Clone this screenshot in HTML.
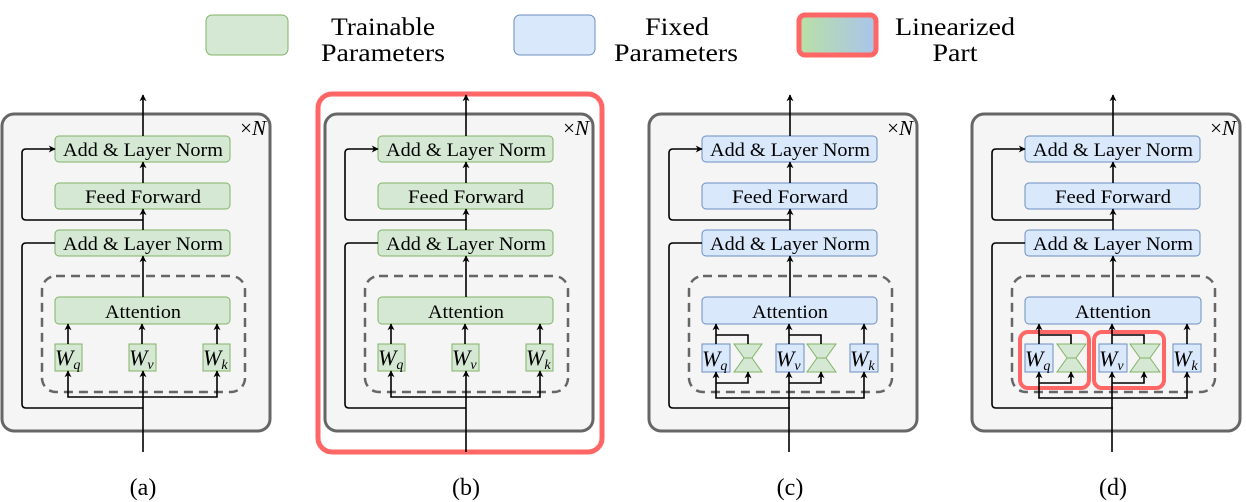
<!DOCTYPE html>
<html><head><meta charset="utf-8"><style>
html,body{margin:0;padding:0;background:#fff;}
svg{display:block;}
text{font-family:"Liberation Serif","Times New Roman",Times,serif;}
</style></head><body>
<svg width="1246" height="502" viewBox="0 0 1246 502" xmlns="http://www.w3.org/2000/svg">
<defs>
<marker id="ar" viewBox="0 0 10 10" refX="9" refY="5" markerWidth="7" markerHeight="7" orient="auto" markerUnits="userSpaceOnUse">
<path d="M0,0 L10,5 L0,10 L3,5 z" fill="#000"/></marker>
<linearGradient id="lg" x1="0" x2="1" y1="0" y2="0"><stop offset="0" stop-color="#b9e0a5"/><stop offset="1" stop-color="#a9c4eb"/></linearGradient>
</defs>
<g font-size="25">
<rect x="206" y="15" width="82" height="40" rx="6" fill="#d5e8d4" stroke="#82b366"/>
<text x="383" y="35" text-anchor="middle" textLength="104" lengthAdjust="spacingAndGlyphs">Trainable</text>
<text x="383" y="61" text-anchor="middle" textLength="124" lengthAdjust="spacingAndGlyphs">Parameters</text>
<rect x="514" y="15" width="81" height="40" rx="6" fill="#dae8fc" stroke="#6c8ebf"/>
<text x="677" y="35" text-anchor="middle" textLength="64" lengthAdjust="spacingAndGlyphs">Fixed</text>
<text x="676" y="61" text-anchor="middle" textLength="124" lengthAdjust="spacingAndGlyphs">Parameters</text>
<rect x="799" y="15" width="77" height="40" rx="6" fill="url(#lg)" stroke="#ff6666" stroke-width="5"/>
<text x="955" y="35" text-anchor="middle" textLength="120" lengthAdjust="spacingAndGlyphs">Linearized</text>
<text x="955" y="61" text-anchor="middle" textLength="45" lengthAdjust="spacingAndGlyphs">Part</text>
</g>
<rect x="318" y="94" width="284" height="358" rx="14" fill="none" stroke="#ff6666" stroke-width="5"/>

<g>
<rect x="2" y="114" width="268" height="317" rx="12" fill="#f5f5f5" stroke="#666" stroke-width="3"/>
<text x="266" y="135" font-size="21" text-anchor="end">×<tspan font-style="italic">N</tspan></text>
<rect x="42" y="276" width="203" height="116" rx="14" fill="none" stroke="#666" stroke-width="2.5" stroke-dasharray="9,6"/>
</g>
<g transform="translate(323,0)"><rect x="2" y="114" width="268" height="317" rx="12" fill="#f5f5f5" stroke="#666" stroke-width="3"/><text x="266" y="135" font-size="21" text-anchor="end">×<tspan font-style="italic">N</tspan></text><rect x="42" y="276" width="203" height="116" rx="14" fill="none" stroke="#666" stroke-width="2.5" stroke-dasharray="9,6"/></g>
<g transform="translate(647,0)"><rect x="2" y="114" width="268" height="317" rx="12" fill="#f5f5f5" stroke="#666" stroke-width="3"/><text x="266" y="135" font-size="21" text-anchor="end">×<tspan font-style="italic">N</tspan></text><rect x="42" y="276" width="203" height="116" rx="14" fill="none" stroke="#666" stroke-width="2.5" stroke-dasharray="9,6"/></g>
<g transform="translate(970,0)"><rect x="2" y="114" width="268" height="317" rx="12" fill="#f5f5f5" stroke="#666" stroke-width="3"/><text x="266" y="135" font-size="21" text-anchor="end">×<tspan font-style="italic">N</tspan></text><rect x="42" y="276" width="203" height="116" rx="14" fill="none" stroke="#666" stroke-width="2.5" stroke-dasharray="9,6"/></g>

<g font-size="19" text-anchor="middle">
<g fill="#d5e8d4" stroke="#82b366">
<rect x="55" y="136" width="175" height="26" rx="4"/><rect x="55" y="183" width="175" height="26" rx="4"/><rect x="55" y="230" width="175" height="26" rx="4"/><rect x="55" y="297" width="175" height="27" rx="4"/>
<rect x="55" y="344" width="27" height="27"/><rect x="129" y="344" width="27" height="27"/><rect x="203" y="344" width="27" height="27"/>
<rect x="378" y="136" width="175" height="26" rx="4"/><rect x="378" y="183" width="175" height="26" rx="4"/><rect x="378" y="230" width="175" height="26" rx="4"/><rect x="378" y="297" width="175" height="27" rx="4"/>
<rect x="378" y="344" width="27" height="27"/><rect x="452" y="344" width="27" height="27"/><rect x="526" y="344" width="27" height="27"/>
</g>
<g fill="#dae8fc" stroke="#6c8ebf">
<rect x="702" y="136" width="175" height="26" rx="4"/><rect x="702" y="183" width="175" height="26" rx="4"/><rect x="702" y="230" width="175" height="26" rx="4"/><rect x="702" y="297" width="175" height="27" rx="4"/>
<rect x="702" y="344" width="28" height="28"/><rect x="776" y="344" width="28" height="28"/><rect x="850" y="344" width="28" height="28"/>
<rect x="1025" y="136" width="175" height="26" rx="4"/><rect x="1025" y="183" width="175" height="26" rx="4"/><rect x="1025" y="230" width="175" height="26" rx="4"/><rect x="1025" y="297" width="176" height="27" rx="4"/>
<rect x="1025" y="344" width="28" height="28"/><rect x="1099" y="344" width="28" height="28"/><rect x="1173" y="344" width="28" height="28"/>
</g>
<g fill="#d5e8d4" stroke="#82b366">
<polygon points="734,344 762,344 752,358 762,372 734,372 744,358"/><line x1="744" y1="358" x2="752" y2="358"/>
<polygon points="807,344 836,344 826,358 836,372 807,372 817,358"/><line x1="817" y1="358" x2="826" y2="358"/>
<polygon points="1057,344 1086,344 1076,358 1086,372 1057,372 1067,358"/><line x1="1067" y1="358" x2="1076" y2="358"/>
<polygon points="1130,344 1160,344 1150,358 1160,372 1130,372 1140,358"/><line x1="1140" y1="358" x2="1150" y2="358"/>
</g>
<rect x="1020" y="332" width="69" height="56" rx="8" fill="none" stroke="#ff6666" stroke-width="4"/>
<rect x="1094" y="332" width="70" height="56" rx="8" fill="none" stroke="#ff6666" stroke-width="4"/>
<g>
<text x="143" y="156" textLength="160" lengthAdjust="spacingAndGlyphs">Add &amp; Layer Norm</text><text x="143" y="203" textLength="116" lengthAdjust="spacingAndGlyphs">Feed Forward</text><text x="143" y="250" textLength="160" lengthAdjust="spacingAndGlyphs">Add &amp; Layer Norm</text><text x="143" y="318" textLength="76" lengthAdjust="spacingAndGlyphs">Attention</text>
<text x="466" y="156" textLength="160" lengthAdjust="spacingAndGlyphs">Add &amp; Layer Norm</text><text x="466" y="203" textLength="116" lengthAdjust="spacingAndGlyphs">Feed Forward</text><text x="466" y="250" textLength="160" lengthAdjust="spacingAndGlyphs">Add &amp; Layer Norm</text><text x="466" y="318" textLength="76" lengthAdjust="spacingAndGlyphs">Attention</text>
<text x="790" y="156" textLength="160" lengthAdjust="spacingAndGlyphs">Add &amp; Layer Norm</text><text x="790" y="203" textLength="116" lengthAdjust="spacingAndGlyphs">Feed Forward</text><text x="790" y="250" textLength="160" lengthAdjust="spacingAndGlyphs">Add &amp; Layer Norm</text><text x="790" y="318" textLength="76" lengthAdjust="spacingAndGlyphs">Attention</text>
<text x="1113" y="156" textLength="160" lengthAdjust="spacingAndGlyphs">Add &amp; Layer Norm</text><text x="1113" y="203" textLength="116" lengthAdjust="spacingAndGlyphs">Feed Forward</text><text x="1113" y="250" textLength="160" lengthAdjust="spacingAndGlyphs">Add &amp; Layer Norm</text><text x="1113" y="318" textLength="76" lengthAdjust="spacingAndGlyphs">Attention</text>
</g>
<g font-style="italic" font-size="22" text-anchor="start">
<text x="55" y="365">W<tspan font-size="14" dy="4">q</tspan></text><text x="129" y="365">W<tspan font-size="14" dy="4">v</tspan></text><text x="203" y="365">W<tspan font-size="14" dy="4">k</tspan></text>
<text x="378" y="365">W<tspan font-size="14" dy="4">q</tspan></text><text x="452" y="365">W<tspan font-size="14" dy="4">v</tspan></text><text x="526" y="365">W<tspan font-size="14" dy="4">k</tspan></text>
<text x="702" y="366">W<tspan font-size="14" dy="4">q</tspan></text><text x="776" y="366">W<tspan font-size="14" dy="4">v</tspan></text><text x="850" y="366">W<tspan font-size="14" dy="4">k</tspan></text>
<text x="1025" y="366">W<tspan font-size="14" dy="4">q</tspan></text><text x="1099" y="366">W<tspan font-size="14" dy="4">v</tspan></text><text x="1173" y="366">W<tspan font-size="14" dy="4">k</tspan></text>
</g>
<g font-size="24">
<text x="143" y="495">(a)</text><text x="466" y="495">(b)</text><text x="790" y="495">(c)</text><text x="1113" y="495">(d)</text>
</g>
</g>

<g fill="none" stroke="#000" stroke-width="1.6" marker-end="url(#ar)">
<g>
<path d="M143 136 V95"/><path d="M143 183 V162"/><path d="M143 230 V209"/><path d="M143 297 V256"/>
<path d="M143 220 H26 Q22 220 22 216 V153 Q22 149 26 149 H55"/>
<path d="M143 408 H26 Q22 408 22 404 V247 Q22 243 26 243 H55" marker-end="none"/>
</g>
<g transform="translate(323,0)"><path d="M143 136 V95"/><path d="M143 183 V162"/><path d="M143 230 V209"/><path d="M143 297 V256"/><path d="M143 220 H26 Q22 220 22 216 V153 Q22 149 26 149 H55"/><path d="M143 408 H26 Q22 408 22 404 V247 Q22 243 26 243 H55" marker-end="none"/></g>
<g transform="translate(647,0)"><path d="M143 136 V95"/><path d="M143 183 V162"/><path d="M143 230 V209"/><path d="M143 297 V256"/><path d="M143 220 H26 Q22 220 22 216 V153 Q22 149 26 149 H55"/><path d="M143 408 H26 Q22 408 22 404 V247 Q22 243 26 243 H55" marker-end="none"/></g>
<g transform="translate(970,0)"><path d="M143 136 V95"/><path d="M143 183 V162"/><path d="M143 230 V209"/><path d="M143 297 V256"/><path d="M143 220 H26 Q22 220 22 216 V153 Q22 149 26 149 H55"/><path d="M143 408 H26 Q22 408 22 404 V247 Q22 243 26 243 H55" marker-end="none"/></g>
<g>
<path d="M143 452 V371"/><path d="M68 344 V324"/><path d="M142 344 V324"/><path d="M217 344 V324"/>
<path d="M143 397 H68 V371"/><path d="M143 397 H217 V371"/>
</g>
<g transform="translate(323,0)"><path d="M143 452 V371"/><path d="M68 344 V324"/><path d="M142 344 V324"/><path d="M217 344 V324"/><path d="M143 397 H68 V371"/><path d="M143 397 H217 V371"/></g>
<g transform="translate(647,0)"><path d="M142 452 V372"/><path d="M69 344 V324"/><path d="M142 344 V324"/><path d="M217 344 V324"/><path d="M142 398 H69 V372"/><path d="M142 398 H217 V372"/>
<path d="M101 344 V335 H69" marker-end="none"/><path d="M174 344 V335 H142" marker-end="none"/>
<path d="M69 383 H101 V372"/><path d="M142 383 H174 V372"/></g>
<g transform="translate(970,0)"><path d="M142 452 V372"/><path d="M69 344 V324"/><path d="M142 344 V324"/><path d="M217 344 V324"/><path d="M142 398 H69 V372"/><path d="M142 398 H217 V372"/>
<path d="M101 344 V335 H69" marker-end="none"/><path d="M174 344 V335 H142" marker-end="none"/>
<path d="M69 383 H101 V372"/><path d="M142 383 H174 V372"/></g>
</g>
</svg>
</body></html>
